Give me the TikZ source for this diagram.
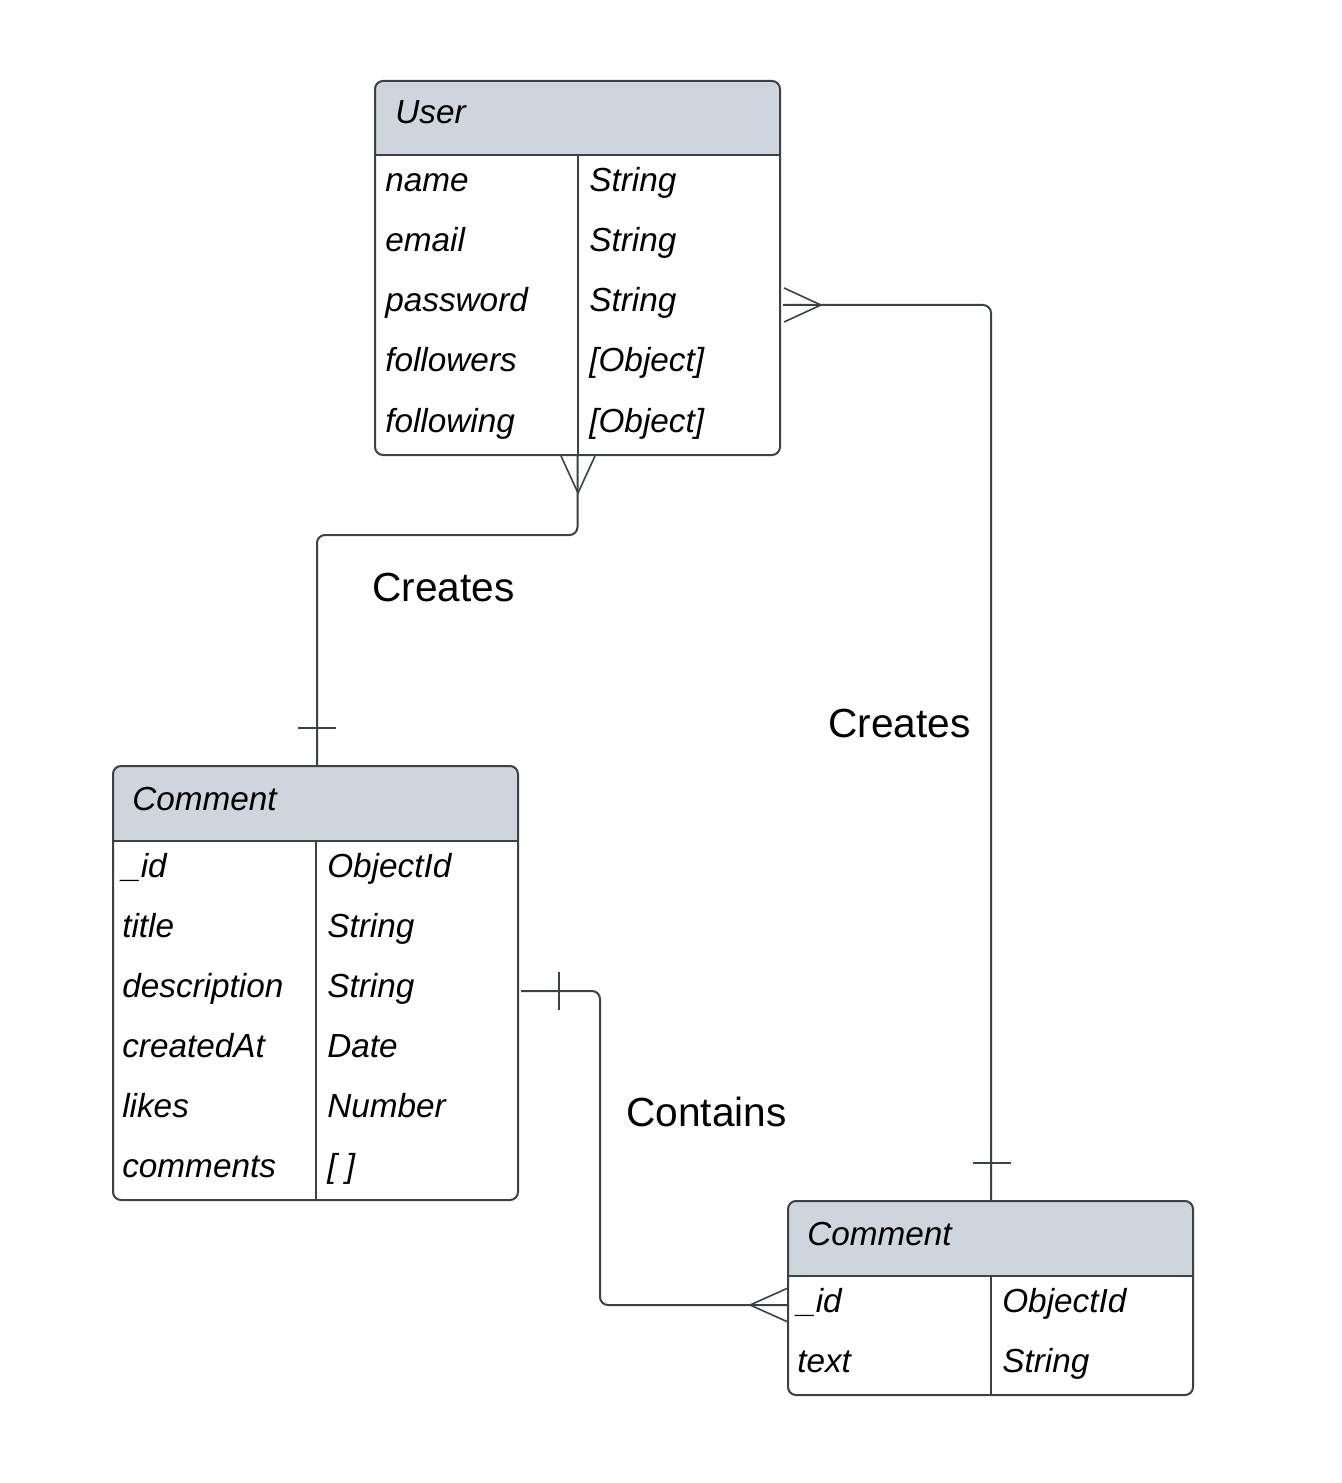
\documentclass[tikz,border=0pt]{standalone}
\usepackage{fontspec}
\setmainfont{Liberation Sans}
\usetikzlibrary{fit}
\definecolor{ln}{HTML}{3B4049}
\definecolor{hdr}{HTML}{CFD5DC}
\begin{document}
\begin{tikzpicture}[x=0.75pt,y=-0.75pt,
  tbl/.style={draw=ln,line width=1.5pt,rounded corners=6pt,inner sep=0pt},
  sep/.style={draw=ln,line width=1.5pt},
  conn/.style={draw=ln,line width=1.5pt,rounded corners=6pt},
  ermark/.style={draw=ln,line width=1.2pt},
  attr/.style={anchor=base west,inner sep=0pt,font=\fontsize{25pt}{30pt}\selectfont\itshape},
  lbl/.style={anchor=base west,inner sep=0pt,font=\fontsize{30.5pt}{36pt}\selectfont}]
\useasboundingbox (0,0) rectangle (1341,1483);
\fill[white] (0,0) rectangle (1341,1483);

% ---------- User ----------
\fill[hdr,rounded corners=6pt] (375,155) -- (375,81) -- (780,81) [sharp corners] -- (780,155) -- cycle;
\fill[hdr] (375,120) rectangle (780,155);
\node[tbl,fit={(375,81) (780,455)}] (user) {};
\draw[sep] (375,155) -- (780,155);
\draw[sep] (578,155) -- (578,455);
\node[attr] (uh) at (395,124) {User};
\node[attr] (u1a) at (385,192) {name};      \node[attr] (u1b) at (589,192) {String};
\node[attr] (u2a) at (385,252) {email};     \node[attr] (u2b) at (589,252) {String};
\node[attr] (u3a) at (385,312) {password};  \node[attr] (u3b) at (589,312) {String};
\node[attr] (u4a) at (385,372) {followers}; \node[attr] (u4b) at (589,372) {[Object]};
\node[attr] (u5a) at (385,432) {following}; \node[attr] (u5b) at (589,432) {[Object]};

% ---------- Comment (left) ----------
\fill[hdr,rounded corners=6pt] (113,841) -- (113,766) -- (518,766) [sharp corners] -- (518,841) -- cycle;
\fill[hdr] (113,800) rectangle (518,841);
\node[tbl,fit={(113,766) (518,1200)}] (c1) {};
\draw[sep] (113,841) -- (518,841);
\draw[sep] (316,841) -- (316,1200);
\node[attr] (ch) at (132,810) {Comment};
\node[attr] (c1a) at (122,877) {\_id};         \node[attr] (c1b) at (327,877) {ObjectId};
\node[attr] (c2a) at (122,937) {title};        \node[attr] (c2b) at (327,937) {String};
\node[attr] (c3a) at (122,997) {description};  \node[attr] (c3b) at (327,997) {String};
\node[attr] (c4a) at (122,1057) {createdAt};   \node[attr] (c4b) at (327,1057) {Date};
\node[attr] (c5a) at (122,1117) {likes};       \node[attr] (c5b) at (327,1117) {Number};
\node[attr] (c6a) at (122,1177) {comments};    \node[attr] (c6b) at (327,1177) {[ ]};

% ---------- Comment (right) ----------
\fill[hdr,rounded corners=6pt] (788,1276) -- (788,1201) -- (1193,1201) [sharp corners] -- (1193,1276) -- cycle;
\fill[hdr] (788,1240) rectangle (1193,1276);
\node[tbl,fit={(788,1201) (1193,1395)}] (c2) {};
\draw[sep] (788,1276) -- (1193,1276);
\draw[sep] (991,1276) -- (991,1395);
\node[attr] (dh) at (807,1245) {Comment};
\node[attr] (d1a) at (797,1312) {\_id};  \node[attr] (d1b) at (1002,1312) {ObjectId};
\node[attr] (d2a) at (797,1372) {text};  \node[attr] (d2b) at (1002,1372) {String};

% ---------- Connectors ----------
\coordinate (k1) at (317,535);
\draw[conn] (user.south) |- (k1) -- (k1 |- c1.north);
\draw[ermark] (561,456) -- (578,493) -- (595,456);
\draw[ermark] (298,728) -- (336,728);

\coordinate (k2s) at (783,305);
\coordinate (k2) at (991,305);
\draw[conn] (k2s) -- (k2) -- (k2 |- c2.north);
\draw[ermark] (784,288) -- (821,305) -- (784,322);
\draw[ermark] (973,1163) -- (1011,1163);

\coordinate (k3s) at (521,991);
\coordinate (k3) at (600,991);
\coordinate (k3e) at (600,1305);
\draw[conn] (k3s) -- (k3) -- (k3e) -- (k3e -| c2.west);
\draw[ermark] (788,1288) -- (750,1305) -- (788,1322);
\draw[ermark] (559,972) -- (559,1010);

% ---------- Labels ----------
\node[lbl] (l1) at (372,601) {Creates};
\node[lbl] (l2) at (828,737) {Creates};
\node[lbl] (l3) at (626,1126) {Contains};
\end{tikzpicture}
\end{document}
